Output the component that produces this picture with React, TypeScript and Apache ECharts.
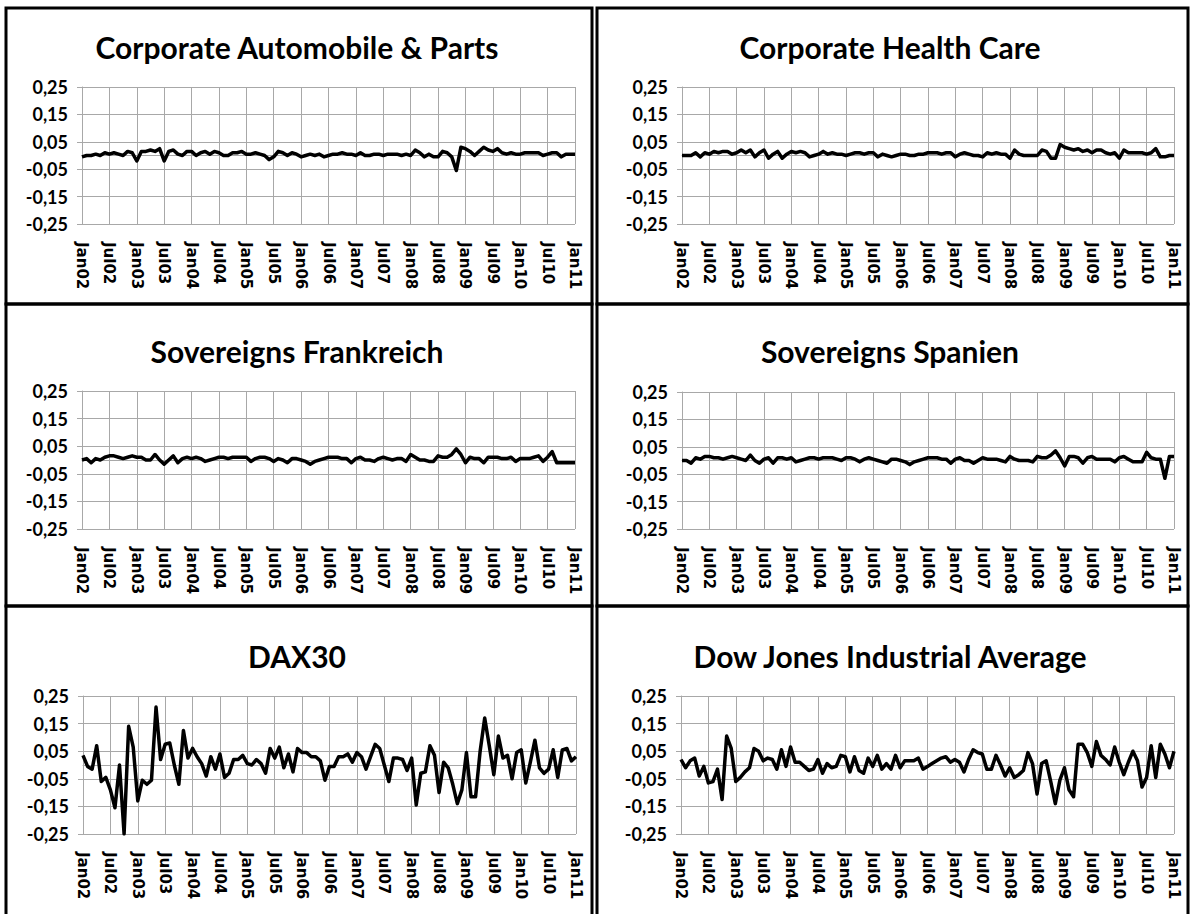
import React, { useEffect, useRef } from "react";
import * as echarts from "echarts";

const months = ["Jan", "Feb", "Mar", "Apr", "May", "Jun", "Jul", "Aug", "Sep", "Oct", "Nov", "Dec"];
const categories: string[] = [];
for (let y = 2; y <= 11; y++) {
  for (let m = 0; m < 12; m++) {
    if (y === 11 && m > 0) break;
    categories.push(months[m] + (y < 10 ? "0" + y : String(y)));
  }
}

const titles = [
  "Corporate Automobile & Parts",
  "Corporate Health Care",
  "Sovereigns Frankreich",
  "Sovereigns Spanien",
  "DAX30",
  "Dow Jones Industrial Average",
];

const autoParts = [
  -0.005, 0.0, 0.0, 0.005, 0.0, 0.01, 0.005, 0.01, 0.005, 0.0, 0.015, 0.01,
  -0.02, 0.015, 0.015, 0.02, 0.015, 0.025, -0.02, 0.015, 0.02, 0.005, 0.0, 0.015,
  0.015, 0.0, 0.01, 0.015, 0.005, 0.015, 0.01, 0.0, 0.0, 0.01, 0.01, 0.015,
  0.005, 0.005, 0.01, 0.005, 0.0, -0.015, -0.005, 0.015, 0.01, 0.0, 0.01, 0.005,
  -0.005, 0.0, 0.005, 0.0, 0.005, -0.005, 0.0, 0.005, 0.005, 0.01, 0.005, 0.005,
  0.0, 0.01, 0.0, 0.0, 0.005, 0.005, 0.0, 0.005, 0.005, 0.005, 0.0, 0.005,
  0.0, 0.02, 0.01, -0.005, 0.005, -0.005, -0.005, 0.015, 0.01, -0.005, -0.055, 0.03,
  0.025, 0.015, 0.0, 0.015, 0.03, 0.02, 0.015, 0.025, 0.01, 0.005, 0.01, 0.005,
  0.005, 0.01, 0.01, 0.01, 0.01, 0.0, 0.005, 0.01, 0.01, -0.005, 0.005, 0.005,
  0.005,
];

const healthCare = [
  0.0, 0.0, 0.0, 0.01, -0.005, 0.01, 0.005, 0.015, 0.01, 0.015, 0.015, 0.005,
  0.01, 0.02, 0.01, 0.02, -0.005, 0.01, 0.02, -0.01, 0.005, 0.015, -0.01, 0.005,
  0.015, 0.01, 0.015, 0.01, -0.005, 0.0, 0.005, 0.015, 0.005, 0.01, 0.005, 0.005,
  0.0, 0.005, 0.01, 0.01, 0.005, 0.01, 0.01, -0.005, 0.005, 0.0, -0.005, 0.0,
  0.005, 0.005, 0.0, 0.0, 0.005, 0.005, 0.01, 0.01, 0.01, 0.005, 0.01, 0.01,
  -0.005, 0.005, 0.01, 0.005, 0.0, 0.0, -0.005, 0.01, 0.005, 0.01, 0.005, 0.005,
  -0.01, 0.02, 0.005, 0.0, 0.0, 0.0, 0.0, 0.02, 0.015, -0.01, -0.01, 0.04,
  0.03, 0.025, 0.02, 0.025, 0.015, 0.02, 0.01, 0.02, 0.02, 0.01, 0.005, 0.01,
  -0.01, 0.02, 0.01, 0.01, 0.01, 0.01, 0.005, 0.01, 0.025, -0.005, -0.005, 0.0,
  0.0,
];

const frankreich = [
  0.0, 0.005, -0.01, 0.005, 0.0, 0.01, 0.015, 0.015, 0.01, 0.005, 0.01, 0.015,
  0.01, 0.01, 0.0, 0.0, 0.02, 0.0, -0.015, 0.0, 0.015, -0.01, 0.005, 0.01,
  0.005, 0.01, 0.005, -0.005, 0.0, 0.005, 0.01, 0.01, 0.005, 0.01, 0.01, 0.01,
  0.01, -0.005, 0.005, 0.01, 0.01, 0.005, -0.005, 0.005, 0.0, -0.01, 0.005, 0.005,
  0.0, -0.005, -0.015, -0.005, 0.0, 0.005, 0.01, 0.01, 0.01, 0.005, 0.005, -0.01,
  0.005, 0.01, 0.0, 0.0, -0.005, 0.005, 0.01, 0.005, 0.0, 0.005, 0.005, -0.005,
  0.02, 0.01, 0.0, 0.0, -0.005, -0.005, 0.015, 0.01, 0.01, 0.02, 0.04, 0.02,
  -0.01, 0.01, 0.005, 0.005, -0.01, 0.01, 0.01, 0.01, 0.005, 0.005, 0.01, -0.005,
  0.005, 0.005, 0.005, 0.01, 0.015, -0.005, 0.01, 0.03, -0.01, -0.01, -0.01, -0.01,
  -0.01,
];

const spanien = [
  0.0, 0.0, -0.01, 0.01, 0.005, 0.015, 0.015, 0.01, 0.01, 0.005, 0.01, 0.015,
  0.01, 0.005, 0.0, 0.02, 0.0, -0.01, 0.005, 0.01, -0.01, 0.01, 0.01, 0.005,
  0.01, -0.005, 0.0, 0.005, 0.01, 0.01, 0.005, 0.01, 0.01, 0.01, 0.005, 0.0,
  0.01, 0.01, 0.005, -0.005, 0.005, 0.01, 0.005, 0.0, -0.005, -0.01, 0.005, 0.005,
  0.0, -0.005, -0.015, -0.005, 0.0, 0.005, 0.01, 0.01, 0.01, 0.005, 0.005, -0.01,
  0.005, 0.01, 0.0, 0.0, -0.01, 0.0, 0.01, 0.005, 0.005, 0.005, 0.0, -0.005,
  0.015, 0.005, 0.0, 0.0, 0.0, -0.005, 0.015, 0.01, 0.01, 0.02, 0.035, 0.01,
  -0.02, 0.015, 0.015, 0.01, -0.01, 0.01, 0.015, 0.005, 0.005, 0.005, 0.005, -0.005,
  0.01, 0.015, 0.005, -0.005, -0.005, -0.005, 0.03, 0.01, 0.005, 0.005, -0.065, 0.015,
  0.015,
];

const dax30 = [
  0.035, -0.005, -0.015, 0.07, -0.06, -0.045, -0.09, -0.155, 0.0, -0.25, 0.14, 0.065,
  -0.13, -0.055, -0.07, -0.055, 0.21, 0.02, 0.075, 0.08, 0.0, -0.07, 0.125, 0.025,
  0.06, 0.03, 0.005, -0.04, 0.03, -0.015, 0.04, -0.045, -0.03, 0.02, 0.02, 0.035,
  0.005, 0.0, 0.02, 0.005, -0.03, 0.06, 0.025, 0.065, -0.01, 0.04, -0.025, 0.06,
  0.045, 0.045, 0.03, 0.03, 0.015, -0.055, -0.005, -0.005, 0.03, 0.03, 0.04, 0.01,
  0.045, 0.03, -0.015, 0.03, 0.075, 0.06, 0.0, -0.06, 0.025, 0.025, 0.02, -0.02,
  0.025, -0.145, -0.03, -0.025, 0.07, 0.035, -0.1, 0.01, -0.01, -0.07, -0.14, -0.09,
  0.045, -0.115, -0.115, 0.05, 0.17, 0.07, -0.035, 0.105, 0.025, 0.035, -0.05, 0.045,
  0.055, -0.065, 0.01, 0.09, -0.01, -0.03, -0.015, 0.055, -0.045, 0.055, 0.06, 0.015,
  0.03,
];

const dowJones = [
  0.02, -0.01, 0.015, 0.025, -0.04, -0.005, -0.065, -0.06, -0.015, -0.125, 0.105, 0.06,
  -0.06, -0.045, -0.025, -0.01, 0.06, 0.05, 0.015, 0.025, 0.02, -0.015, 0.055, -0.005,
  0.065, 0.01, 0.01, -0.005, -0.02, -0.015, 0.02, -0.03, 0.005, -0.01, -0.005, 0.035,
  0.03, -0.025, 0.03, -0.02, -0.03, 0.025, -0.005, 0.035, -0.015, 0.005, -0.015, 0.035,
  -0.01, 0.015, 0.015, 0.015, 0.025, -0.015, -0.005, 0.005, 0.015, 0.025, 0.03, 0.01,
  0.02, 0.01, -0.025, 0.02, 0.055, 0.045, 0.04, -0.015, -0.015, 0.035, 0.0, -0.04,
  -0.01, -0.045, -0.035, -0.02, 0.045, 0.005, -0.105, 0.005, 0.015, -0.06, -0.14, -0.055,
  -0.01, -0.09, -0.115, 0.075, 0.075, 0.045, -0.005, 0.085, 0.035, 0.02, 0.0, 0.065,
  0.01, -0.035, 0.01, 0.05, 0.015, -0.08, -0.045, 0.07, -0.045, 0.075, 0.04, -0.01,
  0.05,
];

const seriesData = [autoParts, healthCare, frankreich, spanien, dax30, dowJones];

const grids = [
  { left: 82, top: 87, width: 493, height: 137 },
  { left: 682, top: 87, width: 492, height: 137 },
  { left: 82, top: 391, width: 493, height: 138 },
  { left: 682, top: 392, width: 492, height: 137 },
  { left: 83, top: 696, width: 493, height: 138 },
  { left: 681, top: 696, width: 493, height: 138 },
];

const titlePos = [
  { x: 297, y: 47 },
  { x: 890, y: 47 },
  { x: 297, y: 351 },
  { x: 890, y: 351 },
  { x: 297, y: 656 },
  { x: 890, y: 656 },
];

const GRID_COLOR = "#a8a8a8";

export default function App() {
  const ref = useRef<HTMLDivElement>(null);
  useEffect(() => {
    if (!ref.current) return;
    const chart = echarts.init(ref.current, undefined, { renderer: "svg" });
    const xAxis = grids.map((_, i) => ({
      type: "category",
      gridIndex: i,
      data: categories,
      boundaryGap: false,
      axisLine: { show: true, lineStyle: { color: GRID_COLOR, width: 1 } },
      axisTick: { show: true, interval: 5, length: 5, lineStyle: { color: GRID_COLOR } },
      splitLine: { show: true, interval: 5, lineStyle: { color: GRID_COLOR, width: 1 } },
      axisLabel: {
        interval: 5,
        rotate: -90,
        margin: 18,
        color: "#000",
        fontFamily: "DejaVu Sans",
        fontWeight: "bold",
        fontSize: 15,
        hideOverlap: false,
      },
    }));
    const yAxis = grids.map((_, i) => ({
      type: "value",
      gridIndex: i,
      min: -0.25,
      max: 0.25,
      interval: 0.1,
      axisLine: { show: true, lineStyle: { color: GRID_COLOR, width: 1 } },
      axisTick: { show: true, length: 5, lineStyle: { color: GRID_COLOR } },
      splitLine: { show: true, lineStyle: { color: GRID_COLOR, width: 1 } },
      axisLabel: {
        margin: 14,
        color: "#000",
        fontFamily: "Lato",
        fontWeight: "bold",
        fontSize: 18,
        formatter: (v: number) => v.toFixed(2).replace(".", ","),
      },
    }));
    const series = seriesData.map((d, i) => ({
      type: "line",
      xAxisIndex: i,
      yAxisIndex: i,
      data: d,
      showSymbol: false,
      symbol: "none",
      lineStyle: { color: "#000", width: 3.5, join: "round" },
    }));
    const titleGraphics = titles.map((t, i) => ({
      type: "text",
      x: titlePos[i].x,
      y: titlePos[i].y,
      style: {
        text: t,
        fill: "#000",
        font: "bold 30px Lato",
        textAlign: "center",
        textVerticalAlign: "middle",
      },
    }));
    const rows = [
      { y: 8, h: 296 },
      { y: 304, h: 302 },
      { y: 606, h: 312 },
    ];
    const cols = [
      { x: 6, w: 586 },
      { x: 597, w: 591 },
    ];
    const borders: any[] = [];
    rows.forEach((r) =>
      cols.forEach((c) =>
        borders.push({
          type: "rect",
          shape: { x: c.x, y: r.y, width: c.w, height: r.h },
          style: { fill: "none", stroke: "#000", lineWidth: 3 },
        })
      )
    );
    chart.setOption({
      animation: false,
      backgroundColor: "#fff",
      grid: grids.map((g) => ({ ...g, containLabel: false, outerBoundsMode: "none" })),
      xAxis,
      yAxis,
      series,
      graphic: [...borders, ...titleGraphics],
    });
    return () => chart.dispose();
  }, []);
  return (
    <div
      ref={ref}
      style={{ position: "fixed", left: 0, top: 0, width: 1190, height: 914 }}
    />
  );
}
